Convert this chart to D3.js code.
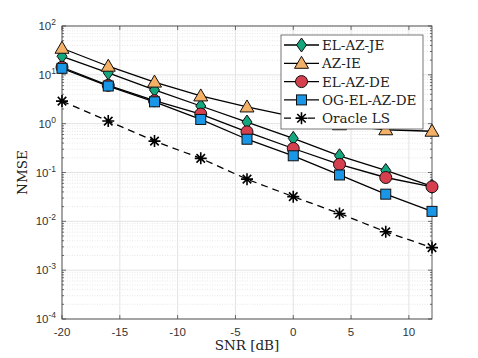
<!DOCTYPE html>
<html>
<head>
<meta charset="utf-8">
<script src="https://cdn.jsdelivr.net/npm/d3@7"></script>
<style>
body { margin: 0; background: #fff; }
</style>
</head>
<body>
<div id="chart"></div>
<script>
var snr = [-20, -16, -12, -8, -4, 0, 4, 8, 12];
var elAzJe = [24, 11, 4.9, 2.3, 1.08, 0.5, 0.22, 0.11, 0.052];
var azIe = [35, 15, 7.1, 3.7, 2.2, 1.4, 0.95, 0.75, 0.7];
var elAzDe = [14.3, 6.1, 2.95, 1.57, 0.68, 0.31, 0.147, 0.079, 0.051];
var ogElAzDe = [13.6, 5.9, 2.8, 1.22, 0.48, 0.22, 0.089, 0.036, 0.016];
var oracleLs = [2.9, 1.13, 0.44, 0.195, 0.073, 0.032, 0.0145, 0.0061, 0.0029];
var xTicks = [-20, -15, -10, -5, 0, 5, 10];
var yTicks = [-4, -3, -2, -1, 0, 1, 2];

var series = [
  {name: "EL-AZ-JE", values: elAzJe, shape: "diamond", color: "#14a67e", dash: null},
  {name: "AZ-IE", values: azIe, shape: "triangle", color: "#f4b066", dash: null},
  {name: "EL-AZ-DE", values: elAzDe, shape: "circle", color: "#d6404e", dash: null},
  {name: "OG-EL-AZ-DE", values: ogElAzDe, shape: "square", color: "#1a96e6", dash: null},
  {name: "Oracle LS", values: oracleLs, shape: "star", color: "#000", dash: "7,5"}
];

var W = 478, H = 358;
var m = {left: 62, top: 26, right: 46, bottom: 39};
var x = d3.scaleLinear().domain([-20, 12]).range([m.left, W - m.right]);
var y = d3.scaleLog().domain([1e-4, 1e2]).range([H - m.bottom, m.top]);

var svg = d3.select("#chart").append("svg").attr("width", W).attr("height", H);

// grid
var minor = [];
for (var e = -4; e < 2; e++) for (var k = 2; k < 10; k++) minor.push(k * Math.pow(10, e));
var grid = svg.append("g");
grid.selectAll(".ym").data(minor).join("line")
  .attr("x1", m.left).attr("x2", W - m.right)
  .attr("y1", d => y(d)).attr("y2", d => y(d))
  .attr("stroke", "#d6d6d6").attr("stroke-width", 0.6).attr("stroke-dasharray", "1,1.5");
grid.selectAll(".yM").data(yTicks).join("line")
  .attr("x1", m.left).attr("x2", W - m.right)
  .attr("y1", d => y(Math.pow(10, d))).attr("y2", d => y(Math.pow(10, d)))
  .attr("stroke", "#e3e3e3").attr("stroke-width", 1);
grid.selectAll(".xM").data(xTicks).join("line")
  .attr("y1", m.top).attr("y2", H - m.bottom)
  .attr("x1", d => x(d)).attr("x2", d => x(d))
  .attr("stroke", "#e3e3e3").attr("stroke-width", 1);

// axes box + ticks
var axc = "#333";
svg.append("rect").attr("x", m.left).attr("y", m.top)
  .attr("width", W - m.left - m.right).attr("height", H - m.top - m.bottom)
  .attr("fill", "none").attr("stroke", axc).attr("stroke-width", 0.8);
var tk = svg.append("g").attr("stroke", axc).attr("stroke-width", 0.7);
xTicks.forEach(function(t) {
  tk.append("line").attr("x1", x(t)).attr("x2", x(t)).attr("y1", H - m.bottom).attr("y2", H - m.bottom - 4);
  tk.append("line").attr("x1", x(t)).attr("x2", x(t)).attr("y1", m.top).attr("y2", m.top + 4);
});
yTicks.forEach(function(t) {
  var yy = y(Math.pow(10, t));
  tk.append("line").attr("x1", m.left).attr("x2", m.left + 4).attr("y1", yy).attr("y2", yy);
  tk.append("line").attr("x1", W - m.right).attr("x2", W - m.right - 4).attr("y1", yy).attr("y2", yy);
});
minor.forEach(function(v) {
  tk.append("line").attr("x1", m.left).attr("x2", m.left + 2).attr("y1", y(v)).attr("y2", y(v));
  tk.append("line").attr("x1", W - m.right).attr("x2", W - m.right - 2).attr("y1", y(v)).attr("y2", y(v));
});

// tick labels
var tl = svg.append("g").attr("font-family", "Liberation Sans, Arial, sans-serif").attr("fill", "#333");
xTicks.forEach(function(t) {
  tl.append("text").attr("x", x(t)).attr("y", H - m.bottom + 17).attr("text-anchor", "middle")
    .attr("font-size", 11.5).text(t);
});
yTicks.forEach(function(t) {
  var txt = tl.append("text").attr("x", m.left - 6).attr("y", y(Math.pow(10, t)) + 4)
    .attr("text-anchor", "end").attr("font-size", 11.5);
  txt.append("tspan").text("10");
  txt.append("tspan").attr("dy", -5).attr("font-size", 8.5).text(t);
});

// axis labels
svg.append("text").attr("x", x(-4)).attr("y", H - 8).attr("text-anchor", "middle")
  .attr("font-family", "DejaVu Serif, serif").attr("font-size", 13.5).attr("fill", "#222").text("SNR [dB]");
svg.append("text").attr("transform", "translate(27," + ((m.top + H - m.bottom) / 2) + ") rotate(-90)")
  .attr("text-anchor", "middle").attr("font-family", "DejaVu Serif, serif").attr("font-size", 13.5)
  .attr("fill", "#222").text("NMSE");

function marker(g, s, cx, cy) {
  var mk;
  if (s.shape === "diamond") {
    mk = g.append("path").attr("d", "M0,-7L5,0L0,7L-5,0Z");
  } else if (s.shape === "triangle") {
    mk = g.append("path").attr("d", "M0,-7L7,5L-7,5Z");
  } else if (s.shape === "circle") {
    mk = g.append("circle").attr("r", 6);
  } else if (s.shape === "square") {
    mk = g.append("rect").attr("x", -5).attr("y", -5).attr("width", 10).attr("height", 10);
  } else {
    var p = "";
    for (var i = 0; i < 4; i++) {
      var a = i * Math.PI / 4;
      p += "M" + (6 * Math.cos(a)) + "," + (6 * Math.sin(a)) + "L" + (-6 * Math.cos(a)) + "," + (-6 * Math.sin(a));
    }
    g.append("path").attr("d", p).attr("transform", "translate(" + cx + "," + cy + ")")
      .attr("stroke", "#000").attr("stroke-width", 1.6);
    return;
  }
  mk.attr("transform", "translate(" + cx + "," + cy + ")")
    .attr("fill", s.color).attr("stroke", "#111").attr("stroke-width", 1);
}

var line = d3.line().x((d, i) => x(snr[i])).y(d => y(d));
var plot = svg.append("g");
series.forEach(function(s) {
  plot.append("path").attr("d", line(s.values)).attr("fill", "none")
    .attr("stroke", "#000").attr("stroke-width", 1.3).attr("stroke-dasharray", s.dash);
});
series.forEach(function(s) {
  var g = plot.append("g");
  s.values.forEach(function(v, i) { marker(g, s, x(snr[i]), y(v)); });
});

// legend
var lg = svg.append("g");
lg.append("rect").attr("x", 281).attr("y", 35).attr("width", 142).attr("height", 94)
  .attr("fill", "#fff").attr("stroke", "#555").attr("stroke-width", 0.8);
series.forEach(function(s, i) {
  var ly = 45 + i * 18.3;
  lg.append("line").attr("x1", 284).attr("x2", 319).attr("y1", ly).attr("y2", ly)
    .attr("stroke", "#000").attr("stroke-width", 1.3).attr("stroke-dasharray", s.dash);
  marker(lg, s, 301.5, ly);
  lg.append("text").attr("x", 322).attr("y", ly + 5).attr("font-family", "DejaVu Serif, serif")
    .attr("font-size", 13.5).attr("fill", "#222").text(s.name);
});
</script>
</body>
</html>
